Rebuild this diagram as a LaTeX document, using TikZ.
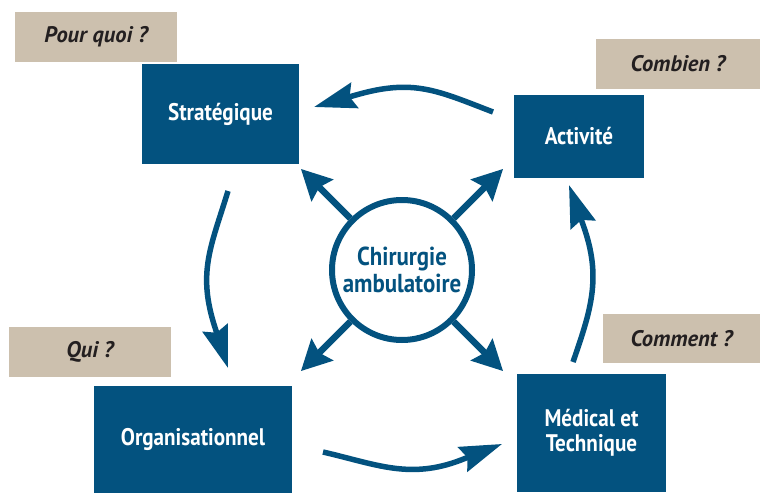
\documentclass[tikz,border=0pt]{standalone}
\usepackage{fontspec}
\setmainfont{PT Sans}
\newfontfamily\diagfont{PT Sans}[FakeStretch=0.88]
\usetikzlibrary{arrows.meta, calc}
\definecolor{boxblue}{HTML}{03527F}
\definecolor{boxtan}{HTML}{CCC0AE}
\definecolor{qtext}{HTML}{231F20}
\tikzset{
      blue box/.style={
		fill=boxblue,
		text=white,
		font=\diagfont\bfseries\fontsize{24}{25}\selectfont,
		minimum width=#1,
		align=center,
		inner sep=0pt,
	  },
      tan box/.style={
		fill=boxtan,
		text=qtext,
		font=\bfseries\itshape\fontsize{22.5}{24}\selectfont,
		minimum width=#1,
		minimum height=50pt,
		inner sep=0pt,
	  },
  		spoke/.style={
    	draw=boxblue, line width=6.5pt,
    	-{Stealth[length=30pt,width=30pt,inset=4pt]},
      },
  		turn/.style={
    	draw=boxblue, line width=5.5pt,
    	-{Stealth[length=42pt,width=26pt,inset=5pt]},
      }
  	}
\begin{document}
\begin{tikzpicture}[x=1pt, y=1pt]
    \useasboundingbox (0,0) rectangle (760,-495);
    % questions
    \node [tan box=162pt] (why) at (96,-37) {Pour quoi ?};
    \node [tan box=164pt] (howmuch) at (678,-64) {Combien ?};
    \node [tan box=162pt] (who) at (90,-352) {Qui ?};
    \node [tan box=157pt, minimum height=49pt] (how) at (681.5,-338.5) {Comment ?};
    % the four levels
    \node [blue box=157pt, minimum height=100pt] (strat) at (220.5,-114) {Stratégique};
    \node [blue box=130pt, minimum height=83pt] (act) at (579,-136.5) {Activité};
    \node [blue box=198pt, minimum height=107pt] (orga) at (193,-439.5) {Organisationnel};
    \node [blue box=149pt, minimum height=118pt] (med) at (591.5,-433) {Médical et\\Technique};
    % centre
    \node [circle, draw=boxblue, line width=6pt, minimum size=140pt, inner sep=0pt,
      text=boxblue, align=center, font=\diagfont\bfseries\fontsize{26}{27}\selectfont]
      (hub) at (402,-270) {Chirurgie\\ambulatoire};
    \foreach \ang in {45,135,225,315} {
      \path (hub.center) ++(\ang:143) coordinate (tip-\ang);
      \draw [spoke] (hub.\ang) -- (tip-\ang);
    }
    % cycle
    \coordinate (top-a) at (493,-112);
    \coordinate (top-m) at (356,-95);
    \coordinate (top-b) at (314,-107);
    \coordinate (left-a) at (228,-191);
    \coordinate (left-m) at (215,-327.5);
    \coordinate (left-b) at (228,-368);
    \coordinate (bot-a) at (323,-452);
    \coordinate (bot-m) at (461,-460);
    \coordinate (bot-b) at (502,-444);
    \coordinate (right-a) at (573,-362);
    \coordinate (right-m) at (583.5,-226);
    \coordinate (right-b) at (569,-185);
    \draw [turn] (top-a) .. controls +(159:60) and +(16:60) .. (top-m) -- (top-b);
    \draw [turn] (left-a) .. controls +(253:58) and +(108:58) .. (left-m) -- (left-b);
    \draw [turn] (bot-a) .. controls +(-13:55) and +(201:55) .. (bot-m) -- (bot-b);
    \draw [turn] (right-a) .. controls +(71:55) and +(-70.5:55) .. (right-m) -- (right-b);
  \end{tikzpicture}
\end{document}
